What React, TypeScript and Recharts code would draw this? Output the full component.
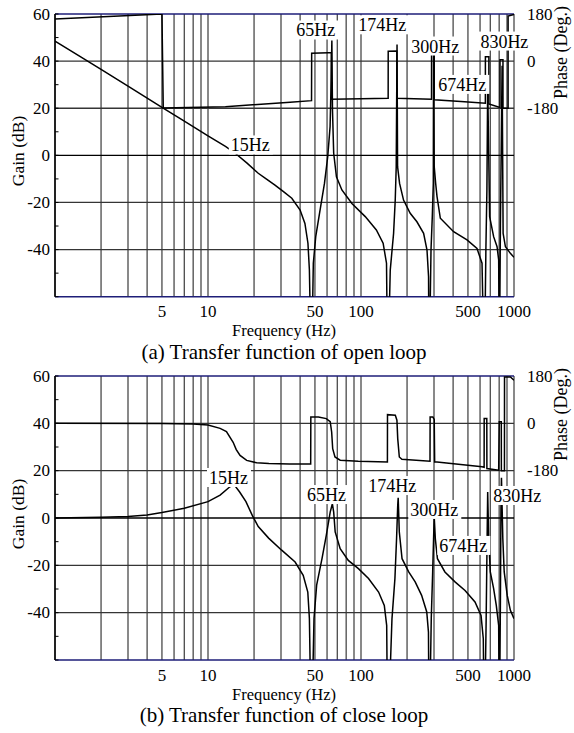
import React from 'react';
import { LineChart, Line, XAxis, YAxis, CartesianGrid, ReferenceLine, ReferenceDot } from 'recharts';

const FONT = '"Liberation Serif", "Times New Roman", Times, serif';

// ---- axes ----
const freqGridTicks = [1, 2, 3, 4, 5, 6, 7, 8, 9, 10, 20, 30, 40, 50, 60, 70, 80, 90, 100, 200, 300, 400, 500, 600, 700, 800, 900, 1000];
const freqTickLabels = [5, 10, 50, 100, 500, 1000];
const gainTicks = [-60, -50, -40, -30, -20, -10, 0, 10, 20, 30, 40, 50, 60];
const gainTickLabels = [60, 40, 20, 0, -20, -40];
const gainGridLines = [40, 20, 0, -20, -40];
const phaseTicks = [-180, 0, 180];

// ---- (a) open loop ----
const openGainFreq = [
  1, 1.5, 2, 3, 5, 7, 10, 13, 15, 18,
  21.3, 24, 27.4, 31, 35.3, 40, 43, 45, 46, 47.4,
  48.8, 50.6, 54, 57.7, 60.6, 62.8, 63.9, 64.5, 65.1, 66.3,
  69.1, 75, 87.2, 106.6, 126, 139.5, 146.8, 149.5, 155.3, 163.3,
  167.4, 169.9, 172, 173.4, 178.7, 189.7, 209.7, 232, 256.6, 270,
  276.4, 278.5, 286.8, 292.4, 296.9, 298, 301, 307.6, 314, 330,
  403, 493, 573, 618, 640, 655, 665, 673, 693, 736,
  775, 794, 802, 815, 836, 849, 879, 947, 1000,
];
const openGainDb = [
  48.5, 41.5, 36.5, 29.4, 20.4, 14.5, 8.3, 3.8, 1.0, -3.3,
  -7.6, -10, -12.6, -15.3, -18.2, -23.2, -28.9, -37.3, -48.7, -95,
  -45.8, -34.5, -23.2, -11.9, -0.6, 12.2, 33.4, 48.7, 19.3, 0.9,
  -9.1, -14.7, -20.4, -26, -31.7, -37.3, -45.8, -95, -48.7, -33.1,
  -19, -4.8, 47, -4.8, -11.9, -19, -24.6, -28.2, -33.1, -40.2,
  -51.5, -95, -40.2, -26, -11.9, 48, -4.8, -11.9, -17.5, -26.7,
  -32.4, -35.9, -39.5, -45.8, -95, -40, -15, 30, -26, -34.5,
  -38.8, -44.4, -95, -30, 38, -33.1, -38.8, -41.6, -43.3,
];
const openPhaseFreq = [
  1, 5, 5.1, 13, 34.4, 47.5, 47.6, 61.3, 64, 64.2,
  100, 150.5, 150.6, 171.5, 171.7, 289, 289.2, 301, 301.2, 450,
  650, 650.2, 685, 685.2, 810, 810.2, 847, 847.2, 915, 915.2,
  1000,
];
const openPhaseDeg = [
  161, 180, -179, -174, -157, -151, 30, 31.6, 32, -146,
  -144, -142, 38, 39, -142, -146, 32, 32, -148, -154,
  -161, 17, 17, -164, -177, 5, 5, -180, -180, 172,
  178,
];
const openLabelText = ['15Hz', '65Hz', '174Hz', '300Hz', '674Hz', '830Hz'];
const openLabelFreq = [14.1, 37.7, 95.9, 213, 320, 603];
const openLabelDb = [4.2, 53, 55.2, 46.2, 29.9, 48.3];

// ---- (b) close loop ----
const closeGainFreq = [
  1, 2, 3, 4, 5, 7, 10, 12, 13.9, 14.8,
  16.1, 17.7, 19.5, 21.3, 24.9, 30.3, 37.1, 41.9, 44.9, 46,
  47.4, 49.3, 51.3, 55.6, 59.3, 62.9, 65, 66.3, 67.8, 73.1,
  82.6, 96.2, 112, 130.3, 142, 147.2, 149.5, 159.4, 166.6, 170.8,
  173.8, 175, 178, 185.5, 205, 226, 249, 269, 276, 279,
  288, 294, 298, 301, 306, 316, 353.6, 411.6, 478.6, 556,
  609, 630, 640, 657, 664, 673, 683, 700, 736, 766,
  794, 802, 815, 822, 828, 845, 863, 903, 947, 1000,
];
const closeGainDb = [
  0, 0.3, 0.6, 1.3, 2.3, 4.1, 6.9, 9.7, 13.2, 14.1,
  11, 6.9, 1, -3.6, -8.5, -13.6, -18.6, -24.2, -31.3, -42.5,
  -95, -42.5, -28.4, -17.2, -7.3, 2.5, 6, 2.5, -5.9, -13,
  -17.9, -21.4, -25.6, -31.3, -36.9, -45.4, -95, -42.5, -25.6, -8.7,
  5.4, 8.5, -5.9, -17.2, -22.8, -27, -32.7, -39.7, -48.2, -95,
  -42, -23, -9, 0.5, -8.7, -17.2, -22.8, -27, -30.6, -35.5,
  -41.2, -51, -95, -45, -20, 11, -8.7, -22.8, -29.8, -36.9,
  -45.4, -95, -35, 5, 17, -8.7, -22.8, -32.7, -39, -42.5,
];
const closePhaseFreq = [
  1, 5, 8, 10, 12, 13.2, 14.6, 15.3, 16.2, 17.9,
  20.8, 25, 34, 46.9, 47, 52.7, 59.3, 62.9, 64.3, 65.3,
  67.6, 73.1, 96, 148.8, 149, 167.6, 171.7, 173.8, 178, 185,
  282.5, 283, 295, 301, 303, 314, 618, 638, 638.5, 664,
  665, 794, 801, 826, 827, 866, 867, 947, 1000,
];
const closePhaseDeg = [
  0, -1, -3, -6, -19, -31, -72, -100, -122, -141,
  -150, -153, -155, -155, 24, 24, 18, 6, -33, -96,
  -128, -140, -144, -147, 33, 31, 12, -58, -128, -137,
  -144, 24, 24, 15, -147, -147, -165, -167, 18, 18,
  -172, -178, 6, 6, -180, -180, 176, 176, 164,
];
const closeLabelText = ['15Hz', '65Hz', '174Hz', '300Hz', '674Hz', '830Hz'];
const closeLabelFreq = [10.15, 44.3, 111.5, 210, 325, 733];
const closeLabelDb = [16.9, 9.7, 13.5, 3.4, -11.8, 9.3];

type Pt = { f: number; v: number };
const zip = (fs: number[], vs: number[]): Pt[] => fs.map((f, i) => ({ f, v: vs[i] }));

const TICK_SIZE = 17;
const LABEL_SIZE = 18;

const textWidth = (t: string, size: number) => {
  let w = 0;
  for (const c of t) w += /[0-9]/.test(c) ? 0.5 : c === 'H' ? 0.722 : 0.444;
  return w * size;
};

function PeakLabel({ cx, cy, text }: { cx: number; cy: number; text: string }) {
  const w = textWidth(text, LABEL_SIZE);
  return (
    <g>
      <rect x={cx - 2} y={cy - 10} width={w + 5} height={19} fill="#ffffff" />
      <text x={cx} y={cy + 6} fontFamily={FONT} fontSize={LABEL_SIZE} fill="#000">
        {text}
      </text>
    </g>
  );
}

const FreqTick = (p: any) => {
  if (!freqTickLabels.includes(p.payload.value)) return <g />;
  return (
    <text x={p.x} y={p.y + 20.5} textAnchor="middle" fontFamily={FONT} fontSize={TICK_SIZE} fill="#000">
      {p.payload.value}
    </text>
  );
};

const GainTick = (p: any) => (
  <g>
    <line x1={p.x} x2={p.x + 3.5} y1={p.y} y2={p.y} stroke="#000" strokeWidth={1} />
    {gainTickLabels.includes(p.payload.value) ? (
      <text x={p.x - 5} y={p.y + 5.8} textAnchor="end" fontFamily={FONT} fontSize={TICK_SIZE} fill="#000">
        {p.payload.value}
      </text>
    ) : null}
  </g>
);

const PhaseTick = (p: any) => (
  <text x={p.x + 13} y={p.y + 5.8} textAnchor="start" fontFamily={FONT} fontSize={TICK_SIZE} fill="#000">
    {p.payload.value}
  </text>
);

function Panel(props: {
  gain: Pt[];
  phase: Pt[];
  labelText: string[];
  labelFreq: number[];
  labelDb: number[];
  height: number;
  top: number;
  bottom: number;
}) {
  const { gain, phase, labelText, labelFreq, labelDb, height, top, bottom } = props;
  return (
    <LineChart width={574} height={height} margin={{ top, right: 0, bottom, left: 0 }}>
      <CartesianGrid yAxisId="gain" horizontal={false} vertical stroke="#4a4a4a" strokeWidth={1.3} />
      <XAxis
        dataKey="f"
        type="number"
        scale="log"
        domain={[1, 1000]}
        ticks={freqGridTicks}
        interval={0}
        height={30}
        axisLine={false}
        tickLine={false}
        tickSize={0}
        tickMargin={0}
        tick={FreqTick}
        allowDataOverflow
      />
      <YAxis
        yAxisId="gain"
        type="number"
        width={55}
        domain={[-60, 60]}
        ticks={gainTicks}
        interval={0}
        allowDataOverflow
        axisLine={{ stroke: '#000', strokeWidth: 1.5 }}
        tickLine={false}
        tickSize={0}
        tickMargin={0}
        tick={GainTick}
      />
      <YAxis
        yAxisId="phase"
        type="number"
        orientation="right"
        width={60}
        domain={[-900, 180]}
        ticks={phaseTicks}
        interval={0}
        allowDataOverflow
        axisLine={false}
        tickLine={false}
        tickSize={0}
        tickMargin={0}
        tick={PhaseTick}
      />
      {gainGridLines.map((v) => (
        <ReferenceLine key={v} yAxisId="gain" y={v} stroke={v === 0 ? '#000' : '#353535'} strokeWidth={1.3} />
      ))}
      <ReferenceLine yAxisId="gain" y={60} stroke="#1e1e78" strokeWidth={1.6} />
      <ReferenceLine yAxisId="gain" y={-60} stroke="#1e1e78" strokeWidth={1.6} />
      <Line
        yAxisId="phase"
        data={phase}
        dataKey="v"
        type="linear"
        stroke="#000"
        strokeWidth={1.5}
        dot={false}
        activeDot={false}
        isAnimationActive={false}
      />
      <Line
        yAxisId="gain"
        data={gain}
        dataKey="v"
        type="linear"
        stroke="#000"
        strokeWidth={1.5}
        dot={false}
        activeDot={false}
        isAnimationActive={false}
      />
      {labelText.map((t, i) => (
        <ReferenceDot
          key={t}
          yAxisId="gain"
          x={labelFreq[i]}
          y={labelDb[i]}
          r={0}
          ifOverflow="visible"
          shape={(s: any) => <PeakLabel cx={s.cx} cy={s.cy} text={t} />}
        />
      ))}
    </LineChart>
  );
}

export default function App() {
  const openGain = zip(openGainFreq, openGainDb);
  const openPhase = zip(openPhaseFreq, openPhaseDeg);
  const closeGain = zip(closeGainFreq, closeGainDb);
  const closePhase = zip(closePhaseFreq, closePhaseDeg);
  return (
    <div style={{ position: 'absolute', left: 0, top: 0, width: 574, height: 733, background: '#fff', overflow: 'hidden' }}>
      <div style={{ position: 'absolute', left: 0, top: 0 }}>
        <Panel
          gain={openGain}
          phase={openPhase}
          labelText={openLabelText}
          labelFreq={openLabelFreq}
          labelDb={openLabelDb}
          height={362}
          top={14}
          bottom={35.3}
        />
      </div>
      <div style={{ position: 'absolute', left: 0, top: 366 }}>
        <Panel
          gain={closeGain}
          phase={closePhase}
          labelText={closeLabelText}
          labelFreq={closeLabelFreq}
          labelDb={closeLabelDb}
          height={367}
          top={10}
          bottom={43}
        />
      </div>
      <svg width={574} height={733} style={{ position: 'absolute', left: 0, top: 0, pointerEvents: 'none' }}>
        <g fontFamily={FONT} fill="#000">
          <text transform="translate(18,151) rotate(-90)" textAnchor="middle" dy="0.34em" fontSize={17.5}>Gain (dB)</text>
          <text transform="translate(18,514) rotate(-90)" textAnchor="middle" dy="0.34em" fontSize={17.5}>Gain (dB)</text>
          <text transform="translate(561,99) rotate(-90)" textAnchor="start" dy="0.34em" fontSize={18}>Phase (Deg.)</text>
          <text transform="translate(561,461) rotate(-90)" textAnchor="start" dy="0.34em" fontSize={18}>Phase (Deg.)</text>
          <text x={284} y={335.5} textAnchor="middle" fontSize={16.5}>Frequency (Hz)</text>
          <text x={284} y={699.5} textAnchor="middle" fontSize={16.5}>Frequency (Hz)</text>
          <text x={284} y={359} textAnchor="middle" fontSize={21}>(a) Transfer function of open loop</text>
          <text x={284} y={722} textAnchor="middle" fontSize={21}>(b) Transfer function of close loop</text>
        </g>
      </svg>
    </div>
  );
}
